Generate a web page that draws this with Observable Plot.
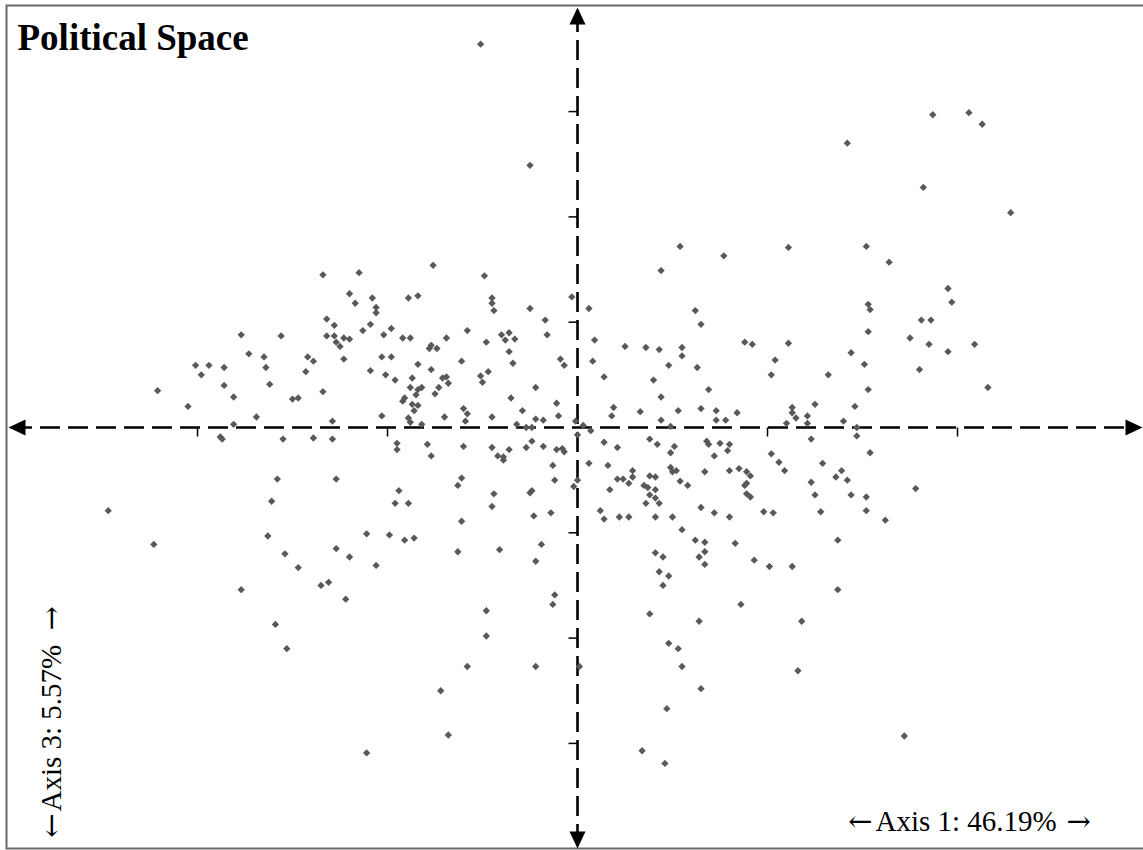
<!DOCTYPE html>
<html>
<head>
<meta charset="utf-8">
<script src="https://cdn.jsdelivr.net/npm/d3@7"></script>
<script src="https://cdn.jsdelivr.net/npm/@observablehq/plot@0.6"></script>
<style>
  html, body { margin: 0; padding: 0; background: #fff; }
  #chart svg { display: block; }
</style>
</head>
<body>
<div id="chart"></div>
<script>
// Axis 1 (46.19%) scores
const axis1 = [
  -0.51,-0.25,1.42,1.87,2.06,2.13,1.82,2.28,-2.21,-2.05,
  -2.01,-1.98,-1.94,-1.86,-1.86,-1.81,-1.77,-1.73,-1.65,-1.64,
  -1.62,-1.56,-1.69,-1.81,-1.88,-1.87,-1.55,-1.50,-1.47,-1.34,
  -1.15,-0.76,-0.49,-1.20,-1.17,-1.08,-1.06,-1.06,-0.89,-0.84,
  -0.45,-0.45,-0.44,-0.03,0.06,-1.32,-1.28,-1.32,-1.28,-1.27,
  -1.25,-1.23,-1.20,-1.13,-1.09,-1.02,-0.98,-0.92,-0.88,-0.69,
  -0.58,-0.25,-0.17,-0.16,-0.48,-0.40,-0.36,-0.38,-0.33,-0.36,
  -0.34,-0.77,-0.78,-0.74,-1.42,-1.39,-1.43,-1.23,-1.03,-0.98,
  -1.09,-1.01,-0.96,-0.84,-0.77,-0.87,-0.88,-0.84,-0.82,-0.85,
  -0.91,-0.92,-0.87,-0.84,-0.86,-0.75,-0.73,-0.71,-0.69,-0.68,
  -0.61,-0.51,-0.50,-0.47,-0.22,-0.09,-0.07,-1.34,-0.35,-0.11,
  -0.10,-0.29,-0.22,-0.18,-0.32,-0.27,-0.24,-0.01,0.03,0.00,
  -1.29,-1.03,-0.89,-0.88,-0.82,-0.70,-0.60,-0.58,-0.59,-0.45,
  -1.39,-1.29,-0.95,-0.95,-0.79,-0.77,-0.60,-0.45,-0.39,-0.39,
  -0.36,-0.27,-0.24,-0.18,-0.11,-0.08,-0.07,-0.42,0.54,0.77,
  1.11,1.52,0.44,0.62,0.65,0.09,0.08,0.14,0.25,0.36,
  0.43,0.55,0.55,0.48,0.40,0.44,0.63,0.69,0.88,0.92,
  1.04,1.02,1.11,1.32,1.44,1.51,1.53,1.54,1.53,1.53,
  1.46,1.40,1.47,1.47,0.19,0.18,0.33,0.44,0.49,0.53,
  0.65,0.73,0.73,0.78,0.84,0.07,0.14,0.21,0.38,0.42,
  0.49,0.51,0.68,0.69,0.75,0.80,0.79,0.72,1.02,1.10,
  1.13,1.13,1.15,1.21,1.21,1.25,1.23,1.54,1.64,1.95,
  1.97,1.81,1.86,1.75,1.85,2.09,1.95,1.80,2.16,-2.47,
  -2.23,-1.58,-1.61,-1.63,-1.54,-1.47,-1.77,-1.59,-1.53,-0.13,
  0.06,-1.27,-0.61,-0.63,-0.94,-0.96,-0.89,-0.44,-0.45,-0.25,
  -0.24,-0.12,0.00,-0.02,-0.23,-0.14,-0.61,-1.11,-0.99,-0.91,
  -0.86,-1.27,-1.20,-1.06,-0.63,-0.41,-0.19,-0.22,-1.35,-1.31,
  -1.22,-0.12,-0.13,-0.48,-0.48,-0.58,-0.22,0.01,
  0.16,0.29,0.29,0.21,0.24,0.27,0.17,0.38,0.41,0.35,
  0.37,0.41,0.38,0.41,0.43,0.36,0.49,0.50,0.52,0.54,
  0.58,0.67,0.80,0.85,0.89,0.91,0.89,0.88,0.89,0.91,
  1.06,1.09,1.29,1.23,1.25,1.28,1.36,1.39,1.42,1.44,
  1.52,1.52,0.12,0.14,0.22,0.27,0.41,0.50,0.65,0.72,
  0.80,0.98,1.03,0.55,0.62,0.67,0.67,0.64,0.67,0.83,
  0.93,1.01,1.13,1.37,0.41,0.45,0.43,0.48,0.45,1.37,
  0.86,0.38,0.64,1.18,0.48,0.53,0.55,1.16,
  1.62,1.78,1.72,-0.72,-0.68,-1.11,0.65,0.47,0.34,0.46
];
// Axis 3 (5.57%) scores
const axis3 = [
  3.64,2.49,2.70,2.97,2.99,2.88,2.28,2.04,0.35,0.20,
  0.59,0.50,0.59,0.57,0.40,0.29,0.88,0.70,0.67,0.57,
  0.41,0.87,0.10,0.03,-0.09,-0.11,-0.11,0.27,0.28,1.45,
  1.47,1.54,1.44,1.27,1.18,1.23,1.14,1.09,1.23,1.25,
  1.23,1.18,1.11,1.24,1.13,1.03,0.97,0.87,0.87,0.81,
  0.77,0.85,0.84,0.92,0.98,0.88,0.94,0.85,0.85,0.85,
  0.92,1.13,1.02,0.88,0.81,0.88,0.90,0.83,0.84,0.72,
  0.61,0.78,0.75,0.75,0.67,0.63,0.53,0.65,0.67,0.67,
  0.54,0.50,0.45,0.60,0.55,0.47,0.38,0.36,0.38,0.31,
  0.28,0.25,0.22,0.21,0.16,0.32,0.38,0.47,0.48,0.42,
  0.63,0.49,0.43,0.53,0.38,0.65,0.59,0.34,0.28,0.23,
  0.11,0.16,0.08,0.07,0.03,0.00,0.00,0.06,0.02,-0.07,
  0.06,0.11,0.09,0.05,0.03,0.10,0.18,0.13,0.06,0.10,
  -0.10,-0.11,-0.15,-0.21,-0.16,-0.27,-0.18,-0.19,-0.28,-0.31,
  -0.21,-0.19,-0.13,-0.18,-0.21,-0.20,-0.23,-0.27,1.72,1.63,
  1.71,1.72,1.49,1.11,0.98,0.83,0.63,0.48,0.77,0.76,
  0.74,0.76,0.68,0.59,0.45,0.29,0.57,0.36,0.81,0.79,
  0.64,0.50,0.80,0.50,0.71,0.60,1.17,1.12,0.91,0.36,
  0.20,0.06,0.00,-0.08,0.19,0.11,0.15,0.07,0.01,0.16,
  0.18,0.16,0.07,0.07,0.14,-0.03,-0.14,-0.19,-0.11,-0.16,
  -0.24,-0.18,-0.13,-0.16,-0.15,-0.16,-0.22,-0.27,-0.25,0.04,
  0.19,0.14,0.09,0.11,0.04,0.22,-0.11,-0.24,1.57,1.32,
  1.19,1.02,1.02,0.85,0.79,0.79,0.72,0.55,0.38,-0.79,
  -1.11,-0.49,-0.70,-1.03,-1.20,-1.33,-1.54,-1.87,-2.10,-0.36,
  -0.34,-0.49,-0.48,-0.55,-0.60,-0.72,-0.72,-0.63,-0.75,-0.62,
  -0.60,-0.50,-0.50,-0.56,-0.84,-0.81,-0.89,-1.01,-1.02,-1.07,
  -1.05,-1.15,-1.23,-1.31,-1.18,-1.16,-1.11,-1.27,-1.50,-1.47,
  -1.63,-1.59,-1.68,-1.74,-1.98,-2.27,-2.27,-2.27,
  -0.36,-0.41,-0.47,-0.49,-0.49,-0.53,-0.59,-0.46,-0.47,-0.55,
  -0.57,-0.59,-0.64,-0.67,-0.72,-0.72,-0.38,-0.42,-0.41,-0.51,
  -0.55,-0.42,-0.41,-0.39,-0.42,-0.46,-0.53,-0.55,-0.63,-0.66,
  -0.33,-0.41,-0.34,-0.52,-0.64,-0.80,-0.47,-0.41,-0.50,-0.64,
  -0.66,-0.79,-0.79,-0.87,-0.85,-0.85,-0.85,-0.85,-0.76,-0.81,
  -0.85,-0.80,-0.81,-0.97,-1.07,-1.09,-1.18,-1.23,-1.30,-1.10,
  -1.26,-1.32,-1.32,-1.07,-1.19,-1.23,-1.37,-1.41,-1.50,-1.54,
  -1.68,-1.77,-1.84,-1.84,-2.05,-2.10,-2.27,-2.31,
  -0.88,-0.58,-2.93,-2.50,-2.92,-3.09,-2.48,-2.67,-3.07,-3.19
];
const xTicks = [-2, -1, 1, 2];
const yTicks = [-3, -2, -1, 1, 2, 3];
const titleText = "Political Space";
const xLabel = "Axis 1: 46.19%";
const yLabel = "Axis 3: 5.57%";
const arrowBack = "\u2190";
const arrowFwd = "\u2192";

const points = axis1.map((x, i) => ({x, y: axis3[i]}));

const serif = "'Liberation Serif', 'Times New Roman', serif";
const arrowFont = "'DejaVu Serif', 'DejaVu Sans', serif";

// custom symbols
const tickDown = {draw(c) { c.moveTo(0, 0); c.lineTo(0, 9); }};
const tickLeft = {draw(c) { c.moveTo(0, 0); c.lineTo(-9, 0); }};
const triLeft  = {draw(c) { c.moveTo(-11, 0); c.lineTo(6, -8); c.lineTo(6, 8); c.closePath(); }};
const triRight = {draw(c) { c.moveTo(11, 0); c.lineTo(-6, -8); c.lineTo(-6, 8); c.closePath(); }};
const triUp    = {draw(c) { c.moveTo(0, -11); c.lineTo(-8, 6); c.lineTo(8, 6); c.closePath(); }};
const triDown  = {draw(c) { c.moveTo(0, 11); c.lineTo(-8, -6); c.lineTo(8, -6); c.closePath(); }};

const labelStyle = {fontSize: 29, fontFamily: serif, fill: "black", lineAnchor: "bottom"};
const arrowStyle = {fontSize: 29, fontFamily: arrowFont, fill: "black", lineAnchor: "bottom"};

const chart = Plot.plot({
  width: 1143,
  height: 850,
  margin: 0,
  style: {background: "#fff"},
  x: {domain: [-3.037, 2.979], axis: null},
  y: {domain: [-4.017, 4.055], axis: null},
  marks: [
    Plot.frame({stroke: "#6a6a6a", strokeWidth: 2, insetLeft: 6, insetTop: 5, insetBottom: 2, insetRight: -4}),
    // dashed axes
    Plot.ruleY([0], {stroke: "black", strokeWidth: 2.6, strokeDasharray: "20 8", insetLeft: 12, insetRight: 6}),
    Plot.ruleX([0], {stroke: "black", strokeWidth: 2.6, strokeDasharray: "20 8", insetTop: 12, insetBottom: 6}),
    // arrowheads
    Plot.dot([0], {y: d => d, frameAnchor: "left", dx: 19, symbol: triLeft, fill: "black", stroke: "none", r: 1}),
    Plot.dot([0], {y: d => d, frameAnchor: "right", dx: -12, symbol: triRight, fill: "black", stroke: "none", r: 1}),
    Plot.dot([0], {x: d => d, frameAnchor: "top", dy: 18, symbol: triUp, fill: "black", stroke: "none", r: 1}),
    Plot.dot([0], {x: d => d, frameAnchor: "bottom", dy: -13, symbol: triDown, fill: "black", stroke: "none", r: 1}),
    // ticks
    Plot.dot(xTicks, {x: d => d, y: () => 0, symbol: tickDown, stroke: "black", strokeWidth: 1.5, fill: "none", r: 1}),
    Plot.dot(yTicks, {y: d => d, x: () => 0, symbol: tickLeft, stroke: "black", strokeWidth: 1.5, fill: "none", r: 1}),
    // points
    Plot.dot(points, {x: "x", y: "y", symbol: "diamond2", r: 3.3, fill: "#595959", stroke: "none"}),
    // title
    Plot.text([titleText], {text: d => d, frameAnchor: "top-left", dx: 17, dy: 49, textAnchor: "start", lineAnchor: "bottom",
      fontSize: 37, fontWeight: "bold", fontFamily: serif, fill: "black"}),
    // horizontal axis label
    Plot.text([arrowBack], {text: d => d, frameAnchor: "bottom-left", dx: 872, dy: -20, textAnchor: "end", ...arrowStyle}),
    Plot.text([xLabel], {text: d => d, frameAnchor: "bottom-left", dx: 875, dy: -20, textAnchor: "start", ...labelStyle}),
    Plot.text([arrowFwd], {text: d => d, frameAnchor: "bottom-left", dx: 1066, dy: -20, textAnchor: "start", ...arrowStyle}),
    // vertical axis label
    Plot.text([arrowBack], {text: d => d, frameAnchor: "bottom-left", dx: 60, dy: -37, textAnchor: "end", rotate: -90, ...arrowStyle}),
    Plot.text([yLabel], {text: d => d, frameAnchor: "bottom-left", dx: 60, dy: -39, textAnchor: "start", rotate: -90, ...labelStyle}),
    Plot.text([arrowFwd], {text: d => d, frameAnchor: "bottom-left", dx: 60, dy: -220, textAnchor: "start", rotate: -90, ...arrowStyle})
  ]
});
document.getElementById("chart").append(chart);
</script>
</body>
</html>
